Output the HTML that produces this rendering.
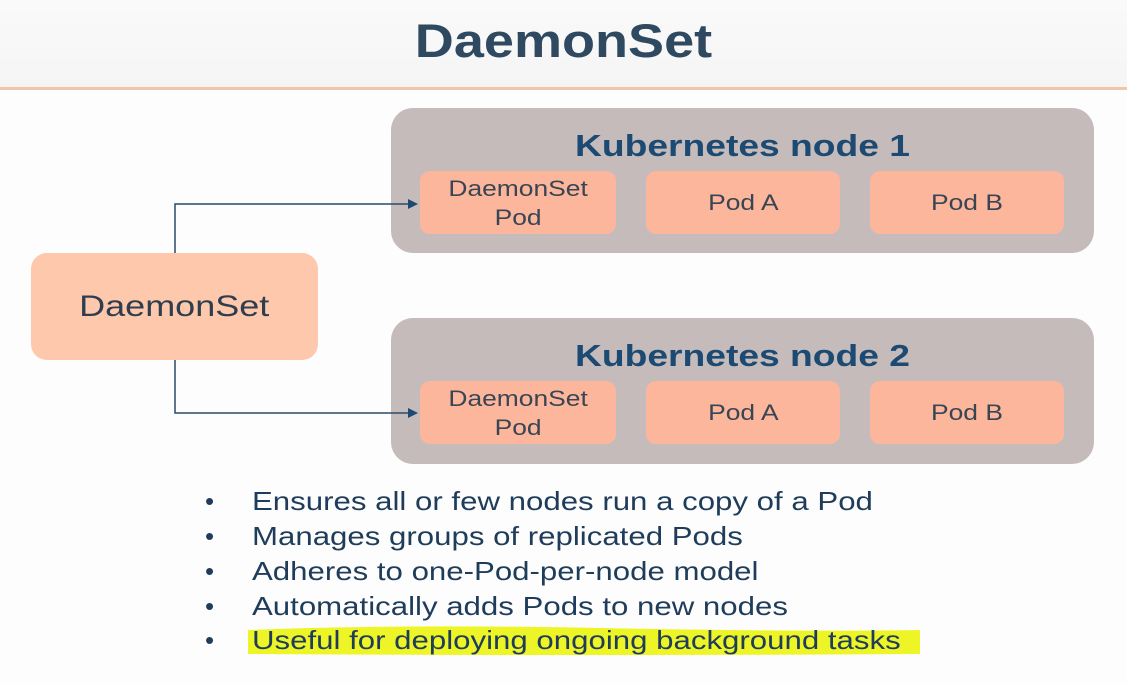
<!DOCTYPE html>
<html><head><meta charset="utf-8"><style>
body{margin:0;width:1127px;height:685px;background:#fdfdfd;position:relative;overflow:hidden;font-family:"Liberation Sans",sans-serif}
.a{position:absolute}
.title{left:0;width:1127px;top:13px;text-align:center;font-size:47px;font-weight:bold;color:#2f4a60;transform:scaleX(1.15)}
.hdr{background:linear-gradient(#fafafa,#f5f5f5);left:0;top:0;width:1127px;height:88px}
.rule{left:0;top:87px;width:1127px;height:3px;background:#f2c4a8}
.node{background:#c5bbbb;border-radius:22px}
.nh{font-size:31px;font-weight:bold;color:#1c4a72;text-align:center;transform:scaleX(1.2)}
.pod{background:#fcb69c;border-radius:10px;display:flex;align-items:center;justify-content:center;text-align:center;font-size:22px;color:#3a4553;line-height:29px}
.pod div{transform:scaleX(1.2)}
.ds{background:#fdc8ab;border-radius:16px;display:flex;align-items:center;justify-content:center;font-size:30px;color:#2e3e4e}
.ds div{transform:scaleX(1.2)}
.bl{left:205px;font-size:26px;color:#1f3d5a;white-space:nowrap}
.bl span{display:inline-block;width:47px}
.bl i{font-style:normal;display:inline-block;transform:scaleX(1.2);transform-origin:left}
</style></head><body>
<div class="a hdr"></div>
<div class="a title">DaemonSet</div>
<div class="a rule"></div>

<div class="a node" style="left:391px;top:108px;width:703px;height:145px"></div>
<div class="a nh" style="left:391px;top:128px;width:703px">Kubernetes node 1</div>
<div class="a pod" style="left:420px;top:171px;width:196px;height:63px"><div>DaemonSet<br>Pod</div></div>
<div class="a pod" style="left:646px;top:171px;width:194px;height:63px"><div>Pod A</div></div>
<div class="a pod" style="left:870px;top:171px;width:194px;height:63px"><div>Pod B</div></div>

<div class="a node" style="left:391px;top:318px;width:703px;height:146px"></div>
<div class="a nh" style="left:391px;top:338px;width:703px">Kubernetes node 2</div>
<div class="a pod" style="left:420px;top:381px;width:196px;height:63px"><div>DaemonSet<br>Pod</div></div>
<div class="a pod" style="left:646px;top:381px;width:194px;height:63px"><div>Pod A</div></div>
<div class="a pod" style="left:870px;top:381px;width:194px;height:63px"><div>Pod B</div></div>

<div class="a ds" style="left:31px;top:253px;width:287px;height:107px"><div>DaemonSet</div></div>

<svg class="a" style="left:0;top:0" width="1127" height="685">
<polyline points="175,253 175,204 410,204" fill="none" stroke="#2b4a66" stroke-width="1.5"/>
<polygon points="418,204 408,199 408,209" fill="#1c4a72"/>
<polyline points="175,360 175,413 410,413" fill="none" stroke="#2b4a66" stroke-width="1.5"/>
<polygon points="418,413 408,408 408,418" fill="#1c4a72"/>
<path d="M248,630 Q400,624 600,628 T920,630 L920,654 Q600,656 248,654 Z" fill="#eef527"/>
</svg>

<div class="a bl" style="top:486px"><span>•</span><i>Ensures all or few nodes run a copy of a Pod</i></div>
<div class="a bl" style="top:521px"><span>•</span><i>Manages groups of replicated Pods</i></div>
<div class="a bl" style="top:556px"><span>•</span><i>Adheres to one-Pod-per-node model</i></div>
<div class="a bl" style="top:591px"><span>•</span><i>Automatically adds Pods to new nodes</i></div>
<div class="a bl" style="top:625px"><span>•</span><i>Useful for deploying ongoing background tasks</i></div>
</body></html>
